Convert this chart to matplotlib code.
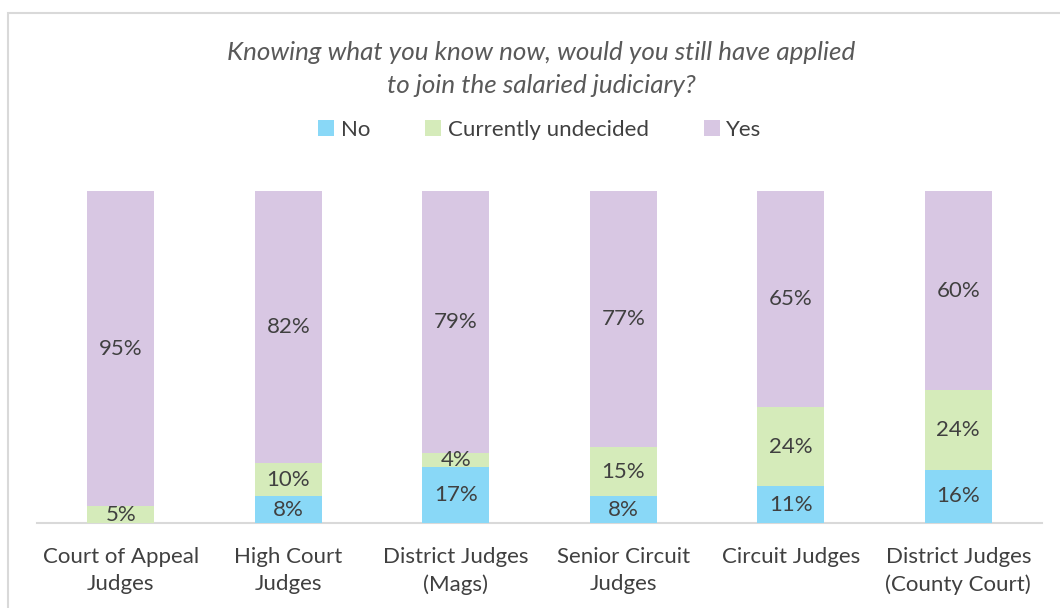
import matplotlib
matplotlib.use("Agg")
import matplotlib.pyplot as plt
from matplotlib.patches import Rectangle, Patch
import numpy as np

categories = ["Court of Appeal\nJudges", "High Court\nJudges", "District Judges\n(Mags)",
              "Senior Circuit\nJudges", "Circuit Judges", "District Judges\n(County Court)"]
no_vals = [0, 8, 17, 8, 11, 16]
undecided_vals = [5, 10, 4, 15, 24, 24]
yes_vals = [95, 82, 79, 77, 65, 60]

series = [("No", no_vals, "#89D8F7"),
          ("Currently undecided", undecided_vals, "#D5EBBA"),
          ("Yes", yes_vals, "#D8C7E3")]

title = "Knowing what you know now, would you still have applied\nto join the salaried judiciary?"

plt.rcParams["font.family"] = ["Lato", "DejaVu Sans"]
text_color = "#404040"
fs = 16

fig = plt.figure(figsize=(10.6, 6.08), dpi=100)

# light outer frame
fig.patches.append(Rectangle((8 / 1060, -0.05), 1.2, (608 - 13) / 608 + 0.05,
                             transform=fig.transFigure, fill=False,
                             edgecolor="#D9D9D9", linewidth=1.5, zorder=0))

ax = fig.add_axes([37 / 1060, (608 - 523) / 608, 1005 / 1060, 332 / 608])
x = np.arange(len(categories))
bottom = np.zeros(len(categories))
for name, vals, color in series:
    vals = np.array(vals, dtype=float)
    ax.bar(x, vals, width=0.4, bottom=bottom, color=color, label=name, zorder=2)
    for xi, b, v in zip(x, bottom, vals):
        if v > 0:
            ax.text(xi, b + v / 2, f"{int(v)}%", ha="center", va="center",
                    fontsize=fs, color=text_color, zorder=3)
    bottom += vals

ax.set_xlim(-0.5, len(categories) - 0.5)
ax.set_ylim(0, 100)
ax.set_yticks([])
ax.set_xticks(x)
ax.set_xticklabels(categories, fontsize=fs, color=text_color, linespacing=1.48)
ax.tick_params(axis="x", length=0, pad=17)
for s in ["top", "right", "left"]:
    ax.spines[s].set_visible(False)
ax.spines["bottom"].set_color("#D9D9D9")
ax.spines["bottom"].set_linewidth(1.5)
ax.spines["bottom"].set_zorder(1)

fig.text(541 / 1060, 1 - 69 / 608, title, ha="center", va="center", fontsize=18.7,
         style="italic", color="#595959", linespacing=1.55)

handles = [Patch(facecolor=c, edgecolor="none") for _, _, c in series]
fig.legend(handles, [n for n, _, _ in series], loc="center",
           bbox_to_anchor=(540 / 1060, 1 - 130 / 608), ncol=3, frameon=False,
           fontsize=fs, handlelength=0.7, handleheight=0.7,
           handletextpad=0.3, columnspacing=2.5, labelcolor=text_color)

fig.savefig("out.png", dpi=100)
